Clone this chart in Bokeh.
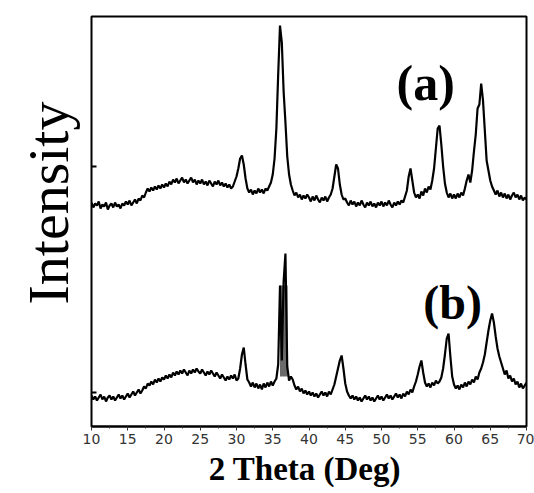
import numpy as np
from bokeh.plotting import figure
from bokeh.models import Label, FixedTicker, Range1d, Title
from bokeh.embed import file_html
from bokeh.resources import INLINE

# 2-theta measurement grid (deg), 0.25 deg step from 10 to 70
two_theta = np.round(np.arange(10.0, 70.0001, 0.25), 2)

# Trace (a): intensity (arbitrary units, offset pattern)
trace_a = [
    224, 219, 223, 221, 225, 218, 222, 220, 224, 217, 221, 223, 219, 224, 220, 222, 218, 223, 221, 225,
    222, 226, 221, 224, 227, 223, 228, 226, 231, 229, 234, 238, 235, 239, 236, 240, 237, 241, 238, 242,
    239, 243, 240, 245, 242, 247, 244, 248, 243, 246, 249, 244, 247, 243, 246, 249, 244, 247, 242, 246,
    243, 247, 242, 245, 241, 246, 243, 240, 245, 242, 246, 241, 244, 240, 243, 239, 242, 238, 240, 245,
    250, 258, 268, 271, 262, 248, 238, 234, 237, 232, 236, 233, 238, 234, 237, 233, 238, 236, 240, 244,
    252, 268, 298, 352, 401, 384, 335, 304, 270, 252, 242, 236, 231, 234, 229, 232, 227, 231, 228, 232,
    229, 225, 230, 226, 231, 227, 224, 229, 226, 230, 225, 229, 232, 238, 250, 262, 258, 242, 232, 227,
    228, 224, 221, 226, 222, 225, 220, 224, 221, 226, 222, 219, 224, 221, 225, 220, 223, 219, 224, 221,
    225, 220, 224, 221, 226, 222, 219, 224, 221, 225, 222, 226, 224, 230, 236, 250, 258, 246, 234, 229,
    232, 228, 235, 231, 238, 234, 240, 237, 246, 258, 278, 298, 301, 282, 260, 243, 234, 229, 233, 228,
    232, 228, 233, 229, 234, 231, 238, 246, 252, 244, 256, 275, 292, 318, 322, 343, 326, 296, 266, 256,
    246, 240, 236, 232, 236, 230, 234, 229, 233, 228, 232, 227, 231, 234, 229, 232, 227, 231, 226, 229,
    227,
]

# Trace (b)
trace_b = [
    31, 27, 30, 26, 29, 32, 27, 30, 25, 29, 31, 27, 30, 26, 29, 32, 28, 31, 27, 30,
    33, 29, 32, 35, 31, 34, 37, 33, 36, 40, 38, 43, 41, 45, 42, 47, 44, 48, 45, 49,
    47, 51, 48, 52, 49, 54, 51, 55, 52, 56, 53, 57, 54, 51, 56, 53, 57, 54, 58, 55,
    53, 57, 54, 51, 55, 52, 56, 53, 50, 54, 51, 48, 52, 49, 46, 50, 47, 51, 48, 52,
    46, 48, 58, 72, 79, 62, 47, 44, 40, 44, 39, 43, 38, 42, 37, 43, 39, 44, 40, 45,
    41, 45, 48, 62, 141, 66, 145, 173, 60, 46, 50, 47, 41, 37, 40, 35, 38, 33, 36, 32,
    35, 31, 34, 30, 33, 29, 32, 35, 31, 34, 30, 35, 32, 37, 42, 50, 58, 66, 71, 58,
    43, 35, 31, 28, 31, 27, 30, 26, 29, 25, 28, 31, 27, 30, 26, 29, 25, 28, 31, 27,
    30, 26, 29, 32, 28, 31, 27, 30, 33, 29, 32, 28, 33, 30, 35, 32, 37, 34, 40, 45,
    52, 60, 66, 54, 44, 40, 43, 39, 44, 41, 46, 43, 45, 49, 58, 72, 88, 93, 70, 50,
    42, 38, 41, 37, 42, 39, 44, 40, 45, 42, 47, 44, 50, 47, 54, 58, 64, 72, 84, 96,
    106, 113, 104, 90, 78, 70, 64, 58, 52, 56, 48, 51, 45, 48, 42, 45, 39, 43, 38, 41,
    44,
]

# dense oscillation band of trace (b) under its main doublet peak
b_band_theta = [36.0, 37.05]
b_band_low = [50, 50]
b_band_high = [141, 141]

x_tick_values = [10, 15, 20, 25, 30, 35, 40, 45, 50, 55, 60, 65, 70]
x_minor_values = [12.5, 17.5, 22.5, 27.5, 32.5, 37.5, 42.5, 47.5, 52.5, 57.5, 62.5, 67.5]
intensity_ticks = [34, 260]

p = figure(width=534, height=493, output_backend="svg", toolbar_location=None,
           x_range=Range1d(10, 70), y_range=Range1d(0, 410),
           min_border_left=91, min_border_right=8, min_border_top=16, min_border_bottom=67)
p.background_fill_color = "white"
p.border_fill_color = "white"
p.outline_line_color = "black"
p.outline_line_width = 2
p.xgrid.visible = False
p.ygrid.visible = False
p.yaxis.visible = False

p.varea(x=b_band_theta, y1=b_band_low, y2=b_band_high, fill_color="#6a6a6a")
p.line(two_theta, trace_a, line_color="black", line_width=2.2)
p.line(two_theta, trace_b, line_color="black", line_width=2.2)

# inward intensity tick marks on the left frame edge
p.ray(x=[10] * len(intensity_ticks), y=intensity_ticks, length=5, length_units="screen",
      angle=0, line_color="black", line_width=2)

serif = "Liberation Serif"

xa = p.xaxis[0]
xa.ticker = FixedTicker(ticks=x_tick_values, minor_ticks=x_minor_values)
xa.axis_line_color = "black"
xa.axis_line_width = 2
xa.major_tick_in = 0
xa.major_tick_out = 4
xa.minor_tick_in = 0
xa.minor_tick_out = 2
xa.major_tick_line_color = "#333333"
xa.minor_tick_line_color = "#333333"
xa.major_label_text_font = "DejaVu Sans"
xa.major_label_text_font_size = "14px"
xa.major_label_text_color = "#333333"
xa.major_label_standoff = 3
xa.axis_label = "2 Theta  (Deg)"
xa.axis_label_text_font = serif
xa.axis_label_text_font_style = "bold"
xa.axis_label_text_font_size = "33px"
xa.axis_label_text_color = "black"
xa.axis_label_standoff = 4

p.add_layout(Title(text="Intensity", align="left", offset=122, standoff=22,
                   text_font=serif, text_font_style="normal", text_font_size="58px",
                   text_color="black"), "left")

p.add_layout(Label(x=56.1, y=344, text="(a)", text_font=serif, text_font_style="bold",
                   text_font_size="50px", text_align="center", text_baseline="alphabetic",
                   text_color="black"))
p.add_layout(Label(x=59.8, y=124, text="(b)", text_font=serif, text_font_style="bold",
                   text_font_size="48px", text_align="center", text_baseline="alphabetic",
                   text_color="black"))

open("out.html", "w").write(file_html(p, INLINE))
